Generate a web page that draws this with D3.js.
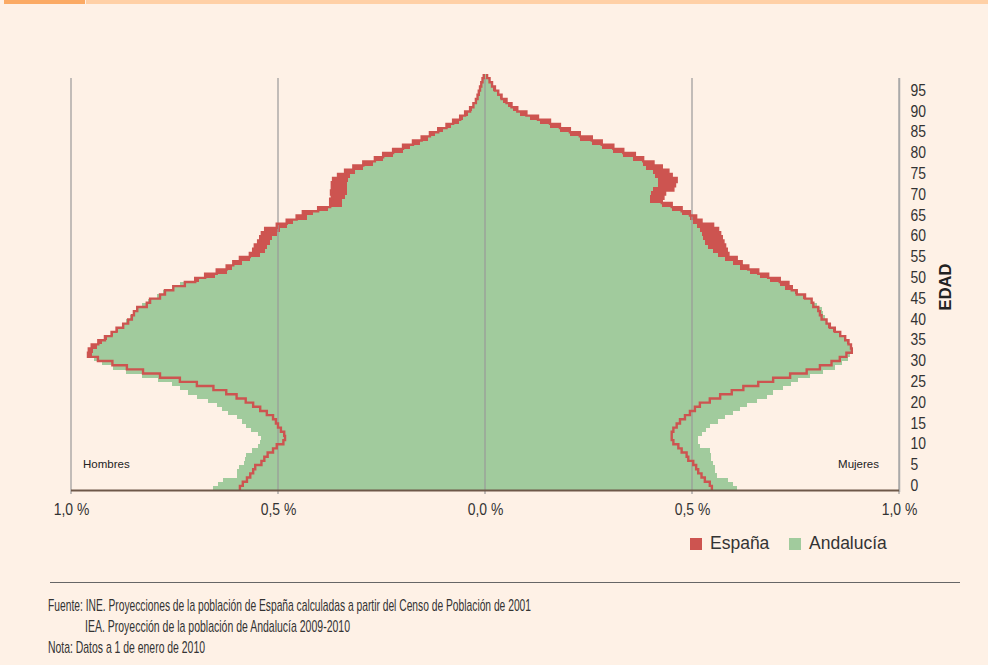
<!DOCTYPE html>
<html>
<head>
<meta charset="utf-8">
<script src="https://cdn.jsdelivr.net/npm/d3@7"></script>
<style>
  html, body { margin: 0; padding: 0; background: #fef1e6; }
  svg { display: block; font-family: "Liberation Sans", Arial, sans-serif; }
</style>
</head>
<body>
<div id="chart"></div>
<script>
// ages 0..99, share of total population (%)
const ages = d3.range(0, 100)

const espHombres = [
  0.592, 0.585, 0.575, 0.567, 0.560, 0.555, 0.540, 0.533, 0.525, 0.512,
  0.503, 0.487, 0.483, 0.485, 0.493, 0.500, 0.505, 0.512, 0.527, 0.543,
  0.560, 0.578, 0.600, 0.625, 0.656, 0.696, 0.737, 0.785, 0.826, 0.865,
  0.900, 0.935, 0.959, 0.957, 0.950, 0.934, 0.918, 0.902, 0.890, 0.874,
  0.862, 0.853, 0.848, 0.840, 0.817, 0.809, 0.785, 0.773, 0.753, 0.725,
  0.700, 0.676, 0.648, 0.624, 0.608, 0.592, 0.568, 0.560, 0.556, 0.548,
  0.543, 0.539, 0.531, 0.503, 0.479, 0.455, 0.440, 0.403, 0.374, 0.374,
  0.370, 0.372, 0.370, 0.370, 0.367, 0.355, 0.338, 0.318, 0.294, 0.266,
  0.246, 0.222, 0.198, 0.174, 0.153, 0.133, 0.113, 0.093, 0.077, 0.060,
  0.048, 0.036, 0.028, 0.022, 0.018, 0.015, 0.012, 0.009, 0.006, 0.003
]
const andHombres = [
  0.656, 0.645, 0.632, 0.600, 0.598, 0.595, 0.582, 0.580, 0.578, 0.562,
  0.548, 0.543, 0.540, 0.548, 0.566, 0.578, 0.588, 0.600, 0.620, 0.635,
  0.648, 0.668, 0.695, 0.718, 0.737, 0.755, 0.790, 0.829, 0.866, 0.898,
  0.926, 0.944, 0.950, 0.948, 0.938, 0.926, 0.914, 0.898, 0.886, 0.874,
  0.866, 0.858, 0.850, 0.842, 0.829, 0.813, 0.793, 0.777, 0.753, 0.737,
  0.690, 0.652, 0.624, 0.612, 0.588, 0.568, 0.543, 0.531, 0.527, 0.519,
  0.515, 0.503, 0.495, 0.479, 0.463, 0.431, 0.415, 0.379, 0.346, 0.346,
  0.338, 0.334, 0.333, 0.334, 0.331, 0.327, 0.314, 0.294, 0.270, 0.246,
  0.222, 0.198, 0.182, 0.158, 0.137, 0.121, 0.101, 0.081, 0.064, 0.052,
  0.040, 0.032, 0.026, 0.020, 0.017, 0.014, 0.011, 0.008, 0.005, 0.003
]
const espMujeres = [
  0.548, 0.543, 0.531, 0.523, 0.515, 0.510, 0.503, 0.491, 0.487, 0.475,
  0.467, 0.455, 0.451, 0.451, 0.455, 0.463, 0.471, 0.483, 0.495, 0.507,
  0.519, 0.543, 0.568, 0.596, 0.624, 0.660, 0.696, 0.737, 0.777, 0.809,
  0.837, 0.857, 0.873, 0.886, 0.884, 0.878, 0.870, 0.858, 0.845, 0.833,
  0.825, 0.813, 0.809, 0.805, 0.793, 0.789, 0.773, 0.753, 0.741, 0.733,
  0.712, 0.684, 0.660, 0.636, 0.620, 0.608, 0.588, 0.584, 0.580, 0.576,
  0.572, 0.568, 0.563, 0.551, 0.523, 0.510, 0.495, 0.475, 0.451, 0.427,
  0.431, 0.435, 0.455, 0.459, 0.463, 0.451, 0.443, 0.427, 0.407, 0.382,
  0.362, 0.334, 0.310, 0.282, 0.258, 0.229, 0.205, 0.181, 0.157, 0.128,
  0.100, 0.078, 0.064, 0.052, 0.040, 0.032, 0.024, 0.017, 0.011, 0.005
]
const andMujeres = [
  0.608, 0.600, 0.588, 0.560, 0.555, 0.555, 0.551, 0.547, 0.545, 0.543,
  0.519, 0.515, 0.515, 0.523, 0.535, 0.543, 0.563, 0.580, 0.600, 0.616,
  0.632, 0.656, 0.680, 0.696, 0.720, 0.740, 0.757, 0.785, 0.817, 0.845,
  0.862, 0.878, 0.882, 0.886, 0.882, 0.874, 0.866, 0.854, 0.841, 0.829,
  0.825, 0.821, 0.817, 0.813, 0.801, 0.789, 0.769, 0.749, 0.725, 0.713,
  0.688, 0.664, 0.640, 0.616, 0.600, 0.580, 0.563, 0.551, 0.539, 0.531,
  0.527, 0.523, 0.519, 0.511, 0.503, 0.495, 0.475, 0.451, 0.427, 0.398,
  0.398, 0.402, 0.406, 0.419, 0.419, 0.410, 0.406, 0.390, 0.382, 0.358,
  0.334, 0.310, 0.282, 0.258, 0.229, 0.205, 0.181, 0.157, 0.133, 0.109,
  0.085, 0.068, 0.056, 0.044, 0.036, 0.028, 0.020, 0.014, 0.010, 0.004
]

const xTicks = [-1, -0.5, 0, 0.5, 1]
const xTickLabels = ['1,0 %', '0,5 %', '0,0 %', '0,5 %', '1,0 %']
const ageTicks = d3.range(0, 100, 5)
const series = ['España', 'Andalucía']
const footLines = [
  'Fuente: INE. Proyecciones de la población de España calculadas a partir del Censo de Población de 2001',
  'IEA. Proyección de la población de Andalucía 2009-2010',
  'Nota: Datos a 1 de enero de 2010'
]

const W = 988
const H = 665
const RED = '#cd5450'
const GREEN = '#a1cb9d'
const NARROW = 'scale(0.82, 1)'

const svg = d3.select('#chart').append('svg')
  .attr('width', W)
  .attr('height', H)

svg.append('rect').attr('width', W).attr('height', H).attr('fill', '#fef1e6')

// top stripe
svg.append('rect').attr('x', 86).attr('y', 0).attr('width', W - 86).attr('height', 4).attr('fill', '#ffd0a6')
svg.append('rect').attr('x', 4).attr('y', 0).attr('width', 81).attr('height', 4).attr('fill', '#fbaa64')

const x = d3.scaleLinear([-1, 1], [71, 899])
const y = d3.scaleLinear([0, 100], [490, 74])
const bh = y(0) - y(1)

const plot = svg.append('g')

function bars (vals, sign, color) {
  plot.append('g')
    .selectAll('rect')
    .data(ages)
    .join('rect')
    .attr('x', a => sign < 0 ? x(-vals[a]) : x(0))
    .attr('y', a => y(a + 1))
    .attr('width', a => Math.abs(x(vals[a]) - x(0)))
    .attr('height', bh + 0.2)
    .attr('fill', color)
    .attr('shape-rendering', 'crispEdges')
}
// Spain behind, Andalucía on top
bars(espHombres, -1, RED)
bars(espMujeres, 1, RED)
bars(andHombres, -1, GREEN)
bars(andMujeres, 1, GREEN)

// gridlines
svg.append('g')
  .selectAll('line')
  .data(xTicks)
  .join('line')
  .attr('x1', d => x(d))
  .attr('x2', d => x(d))
  .attr('y1', 78)
  .attr('y2', 494)
  .attr('stroke', '#999')
  .attr('stroke-opacity', 0.85)
  .attr('stroke-width', 1.4)

// Spain outline (step line over the green)
const stepLine = d3.line()
  .x(d => x(d.v))
  .y(d => y(d.a))

function outline (vals, sign) {
  const pts = ages.flatMap(a => [{ a: a, v: sign * vals[a] }, { a: a + 1, v: sign * vals[a] }])
  svg.append('path')
    .datum(pts)
    .attr('d', stepLine)
    .attr('fill', 'none')
    .attr('stroke', RED)
    .attr('stroke-width', 2.4)
}
outline(espHombres, -1)
outline(espMujeres, 1)

// right axis line
svg.append('line')
  .attr('x1', 899.5).attr('x2', 899.5)
  .attr('y1', 78).attr('y2', 492)
  .attr('stroke', '#aaa')
  .attr('stroke-width', 1.5)

// baseline
svg.append('line')
  .attr('x1', x(-1)).attr('x2', 899)
  .attr('y1', y(0) + 0.5).attr('y2', y(0) + 0.5)
  .attr('stroke', '#6e5849')
  .attr('stroke-width', 2)

// age axis
const ageAxis = svg.append('g')
  .attr('transform', 'translate(899, -5)')
  .call(d3.axisRight(y).tickValues(ageTicks).tickSize(0).tickPadding(14))
ageAxis.select('.domain').remove()
ageAxis.selectAll('text')
  .attr('font-family', null)
  .attr('font-size', 17)
  .attr('fill', '#333')
  .attr('transform', NARROW)

// percent axis
const pctAxis = svg.append('g')
  .attr('transform', 'translate(0, 491)')
  .call(d3.axisBottom(x).tickValues(xTicks).tickSize(0).tickPadding(12)
    .tickFormat((d, i) => xTickLabels[i]))
pctAxis.select('.domain').remove()
pctAxis.selectAll('text')
  .attr('font-family', null)
  .attr('font-size', 17)
  .attr('fill', '#333')
  .attr('transform', NARROW)

svg.append('text')
  .attr('transform', 'translate(951, 287) rotate(-90)')
  .attr('text-anchor', 'middle')
  .attr('font-weight', 'bold')
  .attr('font-size', 16.5)
  .attr('fill', '#222')
  .text('EDAD')

svg.append('text')
  .attr('x', 83).attr('y', 468)
  .attr('font-size', 11.5)
  .attr('fill', '#222')
  .text('Hombres')

svg.append('text')
  .attr('x', 879).attr('y', 468)
  .attr('text-anchor', 'end')
  .attr('font-size', 11.5)
  .attr('fill', '#222')
  .text('Mujeres')

// legend
const legendX = [690, 789]
const legend = svg.append('g')
  .selectAll('g')
  .data(series)
  .join('g')
  .attr('transform', (d, i) => `translate(${legendX[i]}, 538)`)
legend.append('rect')
  .attr('width', 12).attr('height', 12)
  .attr('fill', (d, i) => i === 0 ? RED : GREEN)
legend.append('text')
  .attr('x', 20).attr('y', 11)
  .attr('font-size', 17.5)
  .attr('fill', '#333')
  .text(d => d)

// footer
svg.append('line')
  .attr('x1', 50).attr('x2', 960)
  .attr('y1', 582.5).attr('y2', 582.5)
  .attr('stroke', '#666')
  .attr('stroke-width', 1.2)

const footX = [48, 85, 48]
const footY = [611, 632, 653]
const footW = [483, 265, 157]
svg.append('g')
  .selectAll('text')
  .data(footLines)
  .join('text')
  .attr('x', (d, i) => footX[i])
  .attr('y', (d, i) => footY[i])
  .attr('font-size', 17)
  .attr('fill', '#333')
  .attr('textLength', (d, i) => footW[i])
  .attr('lengthAdjust', 'spacingAndGlyphs')
  .text(d => d)
</script>
</body>
</html>
